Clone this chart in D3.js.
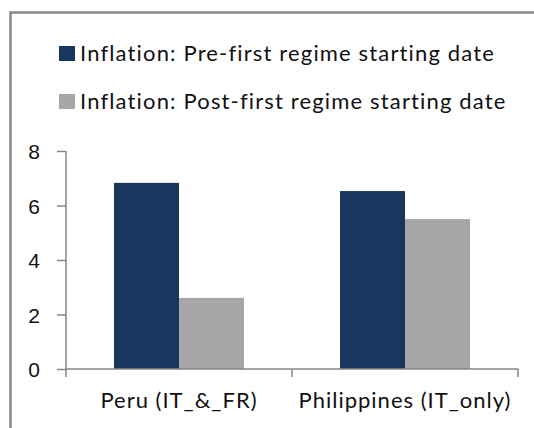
<!DOCTYPE html>
<html>
<head>
<meta charset="utf-8">
<script src="https://cdn.jsdelivr.net/npm/d3@7"></script>
<style>
  body { margin: 0; background: #fff; }
  svg { display: block; font-family: Lato, "Open Sans", sans-serif; }
</style>
</head>
<body>
<svg id="svg"></svg>
<script>
let svg = d3.select("#svg");

const width = 534;
const height = 428;

// chart data
const categories = ["Peru (IT_&_FR)", "Philippines (IT_only)"];
const seriesNames = ["Inflation: Pre-first regime starting date", "Inflation: Post-first regime starting date"];
const preValues = [6.83, 6.53];
const postValues = [2.61, 5.5];
const yTicks = [0, 2, 4, 6, 8];

const colors = ["#17375e", "#a6a6a6"];
const axisColor = "#868686";

svg.attr("width", width).attr("height", height);

// outer frame (runs off the right and bottom edges)
svg.append("rect")
    .attr("x", 10.5)
    .attr("y", 12.5)
    .attr("width", 700)
    .attr("height", 600)
    .attr("fill", "none")
    .attr("stroke", "#878787")
    .attr("stroke-width", 2.5);

let x = d3.scaleBand()
    .domain(categories)
    .range([66, 518]);

let x1 = d3.scaleBand()
    .domain(seriesNames)
    .range([0, x.bandwidth()])
    .paddingOuter(0.738);

let y = d3.scaleLinear()
    .domain([0, 8])
    .range([369, 151]);

let rows = categories.map((c, i) => ({ cat: c, values: [preValues[i], postValues[i]] }));

// bars
svg.append("g")
    .selectAll("g")
    .data(rows)
    .enter()
    .append("g")
        .attr("transform", d => `translate(${x(d.cat)},0)`)
    .selectAll("rect")
    .data(d => d.values.map((v, j) => ({ name: seriesNames[j], value: v, j: j })))
    .enter()
    .append("rect")
        .attr("x", d => x1(d.name))
        .attr("width", x1.bandwidth())
        .attr("y", d => y(d.value))
        .attr("height", d => y(0) - y(d.value))
        .attr("fill", d => colors[d.j]);

// y axis
let yAxis = svg.append("g")
    .attr("transform", "translate(66,0)")
    .call(d3.axisLeft(y).tickValues(yTicks).tickSize(9).tickPadding(17).tickFormat(d3.format("d")));
yAxis.select(".domain").remove();
yAxis.selectAll(".tick line").attr("stroke", axisColor).attr("stroke-width", 1.5);
yAxis.selectAll(".tick text")
    .attr("fill", "#111")
    .style("font-size", "21px")
    .attr("dy", "0.36em");
svg.append("line")
    .attr("x1", 66).attr("x2", 66)
    .attr("y1", y(8)).attr("y2", y(0) + 8)
    .attr("stroke", axisColor)
    .attr("stroke-width", 1.5);

// x axis
svg.append("line")
    .attr("x1", 66).attr("x2", 518)
    .attr("y1", y(0)).attr("y2", y(0))
    .attr("stroke", axisColor)
    .attr("stroke-width", 1.5);
svg.append("g")
    .selectAll("line")
    .data(categories.map(c => x(c) + x.bandwidth()))
    .enter()
    .append("line")
        .attr("x1", d => d).attr("x2", d => d)
        .attr("y1", y(0)).attr("y2", y(0) + 8)
        .attr("stroke", axisColor)
        .attr("stroke-width", 1.5);

svg.append("g")
    .selectAll("text")
    .data(categories)
    .enter()
    .append("text")
        .attr("x", d => x(d) + x.bandwidth() / 2)
        .attr("y", 408)
        .attr("text-anchor", "middle")
        .attr("fill", "#111")
        .style("font-size", "22px")
        .style("letter-spacing", "1px")
        .text(d => d);

// legend
let legend = svg.append("g")
    .selectAll("g")
    .data(seriesNames)
    .enter()
    .append("g")
        .attr("transform", (d, i) => `translate(59,${46 + i * 48})`);

legend.append("rect")
    .attr("width", 16)
    .attr("height", 15)
    .attr("fill", (d, i) => colors[i]);

legend.append("text")
    .attr("x", 21)
    .attr("y", 15)
    .attr("fill", "#111")
    .style("font-size", "22px")
    .style("letter-spacing", "1.15px")
    .text(d => d);
</script>
</body>
</html>
